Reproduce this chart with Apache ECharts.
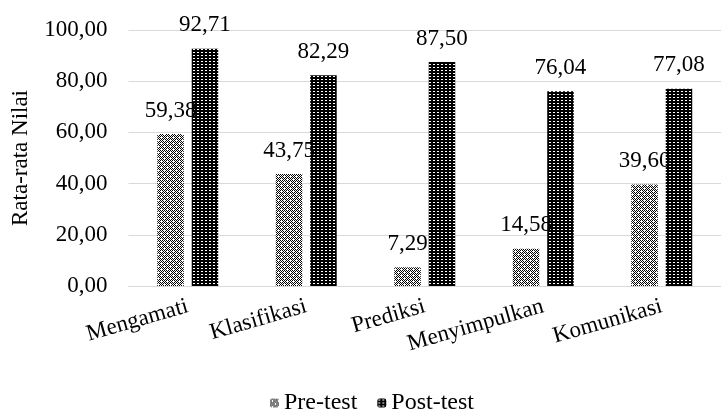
<!DOCTYPE html>
<html><head><meta charset="utf-8">
<script src="https://cdn.jsdelivr.net/npm/echarts@6/dist/echarts.min.js"></script>
<style>html,body{margin:0;padding:0;background:#fff}#c{width:721px;height:410px}</style>
</head><body><div id="c"></div>
<script>
const categories = ['Mengamati','Klasifikasi','Prediksi','Menyimpulkan','Komunikasi'];
const preTest = [59.38, 43.75, 7.29, 14.58, 39.60];
const postTest = [92.71, 82.29, 87.50, 76.04, 77.08];
const seriesNames = ['Pre-test','Post-test'];
const yAxisTitle = 'Rata-rata Nilai';

function makePattern(w, h, draw) {
  const cv = document.createElement('canvas');
  cv.width = w; cv.height = h;
  const ctx = cv.getContext('2d');
  draw(ctx);
  return cv;
}
const prePat = makePattern(6, 6, ctx => {
  ctx.fillStyle = '#fff'; ctx.fillRect(0,0,6,6);
  ctx.fillStyle = '#000';
  for (let y = 0; y < 6; y++) for (let x = 0; x < 6; x++) if ((x + y) % 2 === 0) ctx.fillRect(x, y, 1, 1);
  ctx.fillStyle = '#fff'; ctx.fillRect(2,2,1,1); ctx.fillRect(5,5,1,1);
});
const postPat = makePattern(4, 3, ctx => {
  ctx.fillStyle = '#000'; ctx.fillRect(0,0,4,3);
  ctx.fillStyle = '#fff'; ctx.fillRect(1,1,2,1);
});
const fmt = v => Number(v).toFixed(2).replace('.', ',');
const font = 'Liberation Serif';
const fs = 23;

const chart = echarts.init(document.getElementById('c'), null, {renderer: 'canvas'});
chart.setOption({
  animation: false,
  textStyle: {fontFamily: font},
  grid: {left: 128.5, top: 30, width: 600, bottom: 124, containLabel: false},
  legend: {
    top: 386, left: 265, itemWidth: 9, itemHeight: 9, itemGap: 20,
    textStyle: {fontFamily: font, fontSize: 24, color: '#000'},
    data: seriesNames
  },
  xAxis: {
    type: 'category', data: categories,
    axisLine: {lineStyle: {color: '#d9d9d9', width: 1}},
    axisTick: {show: false},
    axisLabel: {rotate: 16, fontFamily: font, fontSize: fs, color: '#000', margin: 20, interval: 0}
  },
  yAxis: {
    type: 'value', min: 0, max: 100, interval: 20,
    name: yAxisTitle, nameLocation: 'middle', nameGap: 96, nameRotate: 90,
    nameTextStyle: {fontFamily: font, fontSize: fs, color: '#000'},
    axisLine: {show: false}, axisTick: {show: false},
    axisLabel: {formatter: fmt, fontFamily: font, fontSize: fs, color: '#000', margin: 21},
    splitLine: {lineStyle: {color: '#d9d9d9', width: 1}}
  },
  series: [
    {
      name: seriesNames[0], type: 'bar', data: preTest, barWidth: 26.5, barGap: '30%',
      itemStyle: {color: {image: prePat, repeat: 'repeat'}},
      label: {show: true, position: 'top', distance: 12, formatter: p => fmt(p.value), fontFamily: font, fontSize: fs, color: '#000'}
    },
    {
      name: seriesNames[1], type: 'bar', data: postTest, barWidth: 26.5, barGap: '30%',
      itemStyle: {color: {image: postPat, repeat: 'repeat'}},
      label: {show: true, position: 'top', distance: 12, formatter: p => fmt(p.value), fontFamily: font, fontSize: fs, color: '#000'}
    }
  ]
});
</script>
</body></html>
